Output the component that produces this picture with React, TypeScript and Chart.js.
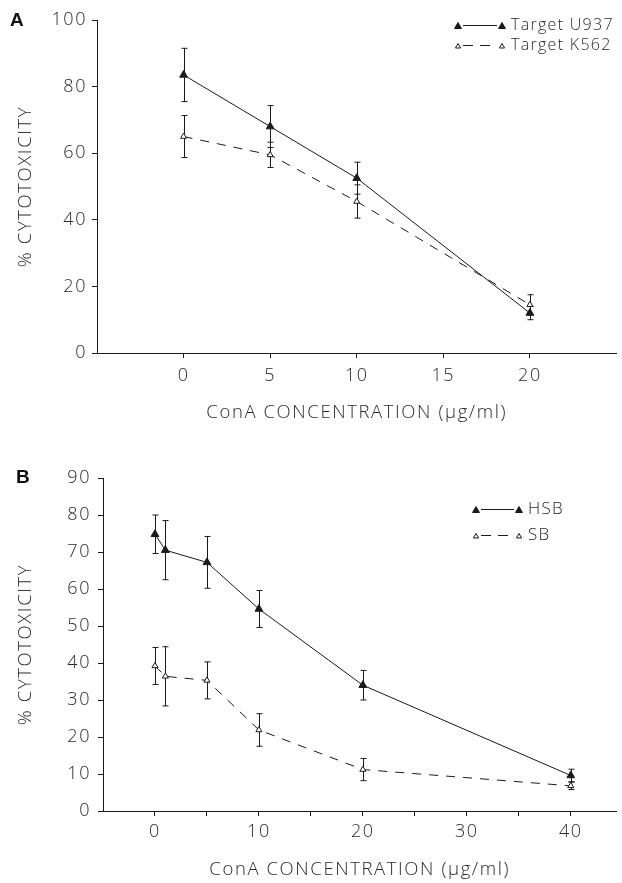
import React, { useEffect, useRef } from 'react';
import { Chart, registerables } from 'chart.js';

Chart.register(...registerables);

// ---------- Panel A data ----------
const concA = [0, 5, 10, 20];
const u937 = [83.5, 68, 52.5, 12];
const u937Err = [8, 6.3, 4.8, 2];
const k562 = [65, 59.5, 45.5, 14.5];
const k562Err = [6.3, 3.8, 5, 3];
const namesA = ['Target U937', 'Target K562'];
const ticksAX = [0, 5, 10, 15, 20];
const labelsAX = [0, 5, 10, 15, 20];
const ticksAY = [0, 20, 40, 60, 80, 100];

// ---------- Panel B data ----------
const concB = [0, 1, 5, 10, 20, 40];
const hsb = [74.8, 70.5, 67.2, 54.6, 34, 9.6];
const hsbErr = [5.2, 8, 7, 5, 4, 1.7];
const sb = [39.2, 36.4, 35.3, 21.9, 11.2, 6.8];
const sbErr = [5, 8, 5, 4.4, 3, 1];
const namesB = ['HSB', 'SB'];
const ticksBX = [0, 5, 10, 15, 20, 25, 30, 35, 40];
const labelsBX = [0, 10, 20, 30, 40];
const ticksBY = [0, 10, 20, 30, 40, 50, 60, 70, 80, 90];

const yTitle = '% CYTOTOXICITY';
const xTitleA = 'ConA CONCENTRATION (\u00b5g/ml)';
const xTitleB = 'ConA CONCENTRATION (\u00b5g/ml)';

const FONT = "'Open Sans', 'Liberation Sans', sans-serif";
const INK = '#1a1a1a';
const TEXT = '#2a2a2a';

function tri(ctx: CanvasRenderingContext2D, x: number, y: number, r: number, filled: boolean) {
  ctx.beginPath();
  for (let k = 0; k < 3; k++) {
    const a = (k * 2 * Math.PI) / 3;
    const px = x + Math.sin(a) * r;
    const py = y - Math.cos(a) * r;
    if (k === 0) ctx.moveTo(px, py);
    else ctx.lineTo(px, py);
  }
  ctx.closePath();
  ctx.fillStyle = filled ? INK : '#ffffff';
  ctx.fill();
  ctx.strokeStyle = INK;
  ctx.lineWidth = 1;
  ctx.stroke();
}

const spacingPlugin = {
  id: 'spacing',
  beforeDraw(chart: any) {
    (chart.ctx as any).letterSpacing = '1.6px';
  },
};

const errorBarPlugin = {
  id: 'errorBars',
  beforeDatasetsDraw(chart: any, _args: any, opts: any) {
    const ctx = chart.ctx as CanvasRenderingContext2D;
    const xs = chart.scales.x;
    const ys = chart.scales.y;
    ctx.save();
    ctx.strokeStyle = INK;
    ctx.lineWidth = 1;
    ctx.setLineDash([]);
    chart.data.datasets.forEach((ds: any, i: number) => {
      const errs = opts.errors[i];
      ds.data.forEach((pt: any, j: number) => {
        const px = Math.round(xs.getPixelForValue(pt.x)) + 0.5;
        const top = ys.getPixelForValue(pt.y + errs[j]);
        const bot = ys.getPixelForValue(pt.y - errs[j]);
        const cw = opts.cap;
        ctx.beginPath();
        ctx.moveTo(px, top);
        ctx.lineTo(px, bot);
        ctx.moveTo(px - cw, top);
        ctx.lineTo(px + cw, top);
        ctx.moveTo(px - cw, bot);
        ctx.lineTo(px + cw, bot);
        ctx.stroke();
      });
    });
    ctx.restore();
  },
};

const legendPlugin = {
  id: 'seriesKey',
  afterDraw(chart: any, _args: any, opts: any) {
    const ctx = chart.ctx as CanvasRenderingContext2D;
    ctx.save();
    (ctx as any).letterSpacing = '1.3px';
    // panel letter
    ctx.fillStyle = '#111';
    ctx.font = `bold ${opts.panelSize}px 'Liberation Sans', Arial, sans-serif`;
    ctx.textBaseline = 'alphabetic';
    ctx.textAlign = 'left';
    ctx.fillText(opts.panel, opts.panelX, opts.panelY);
    // series key
    const names: string[] = opts.names;
    names.forEach((name, i) => {
      const y = opts.y + i * opts.dy + 0.5;
      const x0 = opts.x;
      const x1 = opts.x + opts.span;
      const filled = i === 0;
      ctx.strokeStyle = INK;
      ctx.lineWidth = 1;
      ctx.setLineDash(filled ? [] : [10, 7]);
      ctx.beginPath();
      ctx.moveTo(x0 + 5, y);
      ctx.lineTo(x1 - 5, y);
      ctx.stroke();
      ctx.setLineDash([]);
      const r = filled ? 4 : 3;
      tri(ctx, x0, y + 1, r, filled);
      tri(ctx, x1, y + 1, r, filled);
      ctx.fillStyle = TEXT;
      ctx.font = `300 ${opts.fontSize}px ${FONT}`;
      ctx.textBaseline = 'middle';
      ctx.textAlign = 'left';
      ctx.fillText(name, x1 + opts.gap, y);
    });
    ctx.restore();
  },
};

type Panel = {
  conc: number[];
  s1: number[];
  e1: number[];
  s2: number[];
  e2: number[];
  names: string[];
  xMin: number;
  xMax: number;
  xTicks: number[];
  xLabels: number[];
  yMax: number;
  yTicks: number[];
  xTitle: string;
  height: number;
  padTop: number;
  yWidth: number;
  xHeight: number;
  yLabelPad: number;
  xLabelPad: number;
  xTitlePadBottom: number;
  legend: any;
};

function makeConfig(p: Panel): any {
  const mk = (vals: number[]) => p.conc.map((x, i) => ({ x, y: vals[i] }));
  const tickFont = { family: FONT, size: 18, weight: 300 };
  const titleFont = { family: FONT, size: 18.5, weight: 300 };
  return {
    type: 'line',
    data: {
      datasets: [
        {
          label: p.names[0],
          data: mk(p.s1),
          borderColor: INK,
          borderWidth: 1,
          pointStyle: 'triangle',
          pointRadius: 4.5,
          pointBackgroundColor: INK,
          pointBorderColor: INK,
          pointBorderWidth: 1,
          fill: false,
          tension: 0,
        },
        {
          label: p.names[1],
          data: mk(p.s2),
          borderColor: INK,
          borderWidth: 1,
          borderDash: [9, 8],
          pointStyle: 'triangle',
          pointRadius: 3.5,
          pointBackgroundColor: '#ffffff',
          pointBorderColor: INK,
          pointBorderWidth: 1,
          fill: false,
          tension: 0,
        },
      ],
    },
    options: {
      responsive: false,
      animation: false,
      events: [],
      layout: { padding: { top: p.padTop, left: 0, right: 0, bottom: 0 } },
      plugins: {
        legend: { display: false },
        tooltip: { enabled: false },
        title: { display: false },
        errorBars: { errors: [p.e1, p.e2], cap: 3 },
        seriesKey: p.legend,
      },
      scales: {
        x: {
          type: 'linear',
          min: p.xMin,
          max: p.xMax,
          afterBuildTicks: (s: any) => {
            s.ticks = p.xTicks.map((v) => ({ value: v }));
          },
          afterFit: (s: any) => {
            s.height = p.xHeight;
          },
          grid: {
            display: true,
            drawOnChartArea: false,
            drawTicks: true,
            tickLength: 5,
            color: INK,
            lineWidth: 1,
          },
          border: { display: true, color: INK, width: 1 },
          ticks: {
            color: TEXT,
            font: tickFont,
            padding: p.xLabelPad,
            maxRotation: 0,
            autoSkip: false,
            callback: (v: number) => (p.xLabels.includes(v) ? String(v) : ''),
          },
          title: {
            display: true,
            text: p.xTitle,
            color: TEXT,
            font: titleFont,
            padding: { top: 0, bottom: p.xTitlePadBottom },
          },
        },
        y: {
          type: 'linear',
          min: 0,
          max: p.yMax,
          afterBuildTicks: (s: any) => {
            s.ticks = p.yTicks.map((v) => ({ value: v }));
          },
          afterFit: (s: any) => {
            s.width = p.yWidth;
          },
          grid: {
            display: true,
            drawOnChartArea: false,
            drawTicks: true,
            tickLength: 5,
            color: INK,
            lineWidth: 1,
          },
          border: { display: true, color: INK, width: 1 },
          ticks: {
            color: TEXT,
            font: tickFont,
            padding: p.yLabelPad,
            autoSkip: false,
            callback: (v: number) => String(v),
          },
          title: {
            display: true,
            text: yTitle,
            color: TEXT,
            font: titleFont,
            padding: { top: 15, bottom: 0 },
          },
        },
      },
    },
    plugins: [spacingPlugin, errorBarPlugin, legendPlugin],
  };
}

const panelA: Panel = {
  conc: concA,
  s1: u937,
  e1: u937Err,
  s2: k562,
  e2: k562Err,
  names: namesA,
  xMin: -5,
  xMax: 25,
  xTicks: ticksAX,
  xLabels: labelsAX,
  yMax: 100,
  yTicks: ticksAY,
  xTitle: xTitleA,
  height: 440,
  padTop: 20,
  yWidth: 97,
  xHeight: 87,
  yLabelPad: 5,
  xLabelPad: 7,
  xTitlePadBottom: 16,
  legend: {
    panel: 'A', panelX: 10, panelY: 26, panelSize: 19,
    names: namesA, x: 458, y: 25, dy: 20, span: 44, gap: 9, fontSize: 16,
  },
};

const panelB: Panel = {
  conc: concB,
  s1: hsb,
  e1: hsbErr,
  s2: sb,
  e2: sbErr,
  names: namesB,
  xMin: -5,
  xMax: 44.4,
  xTicks: ticksBX,
  xLabels: labelsBX,
  yMax: 90,
  yTicks: ticksBY,
  xTitle: xTitleB,
  height: 443,
  padTop: 38,
  yWidth: 103,
  xHeight: 72,
  yLabelPad: 7,
  xLabelPad: 5,
  xTitlePadBottom: 2,
  legend: {
    panel: 'B', panelX: 16, panelY: 483 - 440, panelSize: 19,
    names: namesB, x: 476, y: 69, dy: 26, span: 43, gap: 9, fontSize: 17,
  },
};

function PanelChart({ panel, top }: { panel: Panel; top: number }) {
  const ref = useRef<HTMLCanvasElement | null>(null);
  useEffect(() => {
    if (!ref.current) return;
    const chart = new Chart(ref.current, makeConfig(panel));
    return () => chart.destroy();
  }, [panel]);
  return (
    <canvas
      ref={ref}
      width={622}
      height={panel.height}
      style={{ position: 'absolute', left: 0, top, width: 622, height: panel.height, display: 'block' }}
    />
  );
}

export default function App() {
  return (
    <div
      style={{
        position: 'absolute',
        left: 0,
        top: 0,
        width: 622,
        height: 883,
        background: '#ffffff',
        overflow: 'hidden',
      }}
    >
      <PanelChart panel={panelA} top={0} />
      <PanelChart panel={panelB} top={440} />
    </div>
  );
}
